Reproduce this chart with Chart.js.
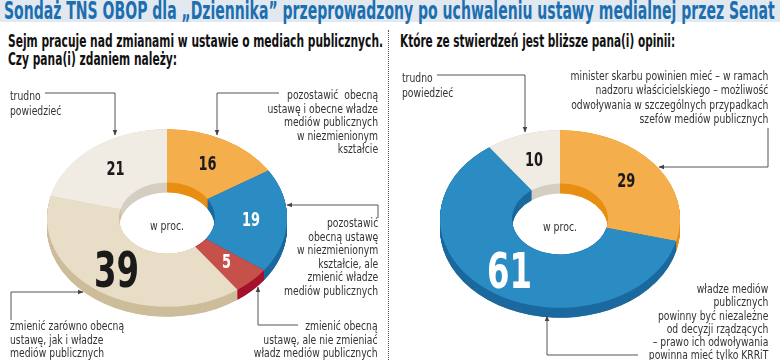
<!DOCTYPE html>
<html>
<head>
<meta charset="utf-8">
<script src="https://cdn.jsdelivr.net/npm/chart.js@4"></script>
<style>
  body { margin: 0; width: 780px; height: 360px; position: relative; overflow: hidden; background: #fff;
         font-family: "Liberation Sans Narrow", "DejaVu Sans Condensed", "Roboto", sans-serif; color: #222; }
  #titlebar { position: absolute; left: 0; top: 0; width: 780px; height: 22px; background: #e2e8ef; }
  .fit { position: absolute; white-space: nowrap; transform-origin: left top; display: inline-block; }
  #title { left: 4px; top: -3px; font-size: 25px; font-weight: bold; color: #1b6fb1; line-height: 28px; }
  .sub { font-size: 17px; font-weight: bold; color: #111; line-height: 18px; }
  #sep { position: absolute; left: 388px; top: 30px; height: 330px; border-left: 1px dotted #555; }
  .note { position: absolute; font-size: 13px; line-height: 13.5px; color: #333; white-space: nowrap;
          transform: scaleX(0.79); transform-origin: left top; }
  .r { text-align: right; transform-origin: right top; }
  .box { position: absolute; }
  svg { position: absolute; left: 0; top: 0; }
</style>
</head>
<body>
<div id="titlebar"></div>
<div id="title" class="fit">Sondaż TNS OBOP dla „Dziennika” przeprowadzony po uchwaleniu ustawy medialnej przez Senat</div>
<div id="subL" class="fit sub" style="left:8px; top:32px">Sejm pracuje nad zmianami w ustawie o mediach publicznych.<br>Czy pana(i) zdaniem należy:</div>
<div id="subR" class="fit sub" style="left:400px; top:32px">Które ze stwierdzeń jest bliższe pana(i) opinii:</div>
<div id="sep"></div>

<div class="box" style="left:47px; top:98px"><canvas id="leftChart" width="240" height="240"></canvas></div>
<div class="box" style="left:440px; top:99px"><canvas id="rightChart" width="240" height="240"></canvas></div>

<svg width="780" height="360">
  <defs>
    <marker id="ah" viewBox="0 0 10 10" refX="9" refY="5" markerWidth="6" markerHeight="6" orient="auto">
      <path d="M0,1 L10,5 L0,9 z" fill="#444"/>
    </marker>
  </defs>
  <g fill="none" stroke="#555" stroke-width="1" marker-end="url(#ah)">
    <polyline points="45,93 115,93 115,135"/>
    <polyline points="279,93 217,93 217,135"/>
    <polyline points="378,218 378,205 287,205"/>
    <polyline points="298,325 258,325 258,287"/>
    <polyline points="11,320 11,292 83,292"/>
    <polyline points="437,75 525,75 525,132"/>
    <polyline points="768,128 768,167 659,167"/>
    <polyline points="638,355 547,355 547,316"/>
  </g>
</svg>

<div class="note" style="left:10px; top:88px; line-height:15px">trudno<br>powiedzieć</div>
<div class="note r" style="right:402px; top:88px">pozostawić&nbsp; obecną<br>ustawę i obecne władze<br>mediów publicznych<br>w niezmienionym<br>kształcie</div>
<div class="note r" style="right:402px; top:216px">pozostawić<br>obecną ustawę<br>w niezmienionym<br>kształcie, ale<br>zmienić władze<br>mediów publicznych</div>
<div class="note r" style="right:402px; top:319px">zmienić obecną<br>ustawę, ale nie zmieniać<br>władz mediów publicznych</div>
<div class="note" style="left:10px; top:319px">zmienić zarówno obecną<br>ustawę, jak i władze<br>mediów publicznych</div>

<div class="note" style="left:402px; top:70px; line-height:15px">trudno<br>powiedzieć</div>
<div class="note r" style="right:12px; top:69px; line-height:14.3px">minister skarbu powinien mieć – w ramach<br>nadzoru właścicielskiego – możliwość<br>odwoływania w szczególnych przypadkach<br>szefów mediów publicznych</div>
<div class="note r" style="right:12px; top:282px; line-height:13.3px">władze mediów<br>publicznych<br>powinny być niezależne<br>od decyzji rządzących<br>– prawo ich odwoływania<br>powinna mieć tylko KRRiT</div>

<script>
// Left poll: clockwise from 12 o'clock
const leftCategories = [
  'pozostawić obecną ustawę i obecne władze mediów publicznych w niezmienionym kształcie',
  'pozostawić obecną ustawę w niezmienionym kształcie, ale zmienić władze mediów publicznych',
  'zmienić obecną ustawę, ale nie zmieniać władz mediów publicznych',
  'zmienić zarówno obecną ustawę, jak i władze mediów publicznych',
  'trudno powiedzieć'
];
const leftValues = [16, 19, 5, 39, 21];

// Right poll: clockwise from 12 o'clock
const rightCategories = [
  'minister skarbu powinien mieć możliwość odwoływania szefów mediów publicznych',
  'władze mediów publicznych powinny być niezależne od decyzji rządzących',
  'trudno powiedzieć'
];
const rightValues = [29, 61, 10];

const ORANGE = '#f5ae4c', BLUE = '#2b8bc3', RED = '#c6504a', BEIGE = '#e8ddc7', CREAM = '#f1ece3';
const sideOf = {};
sideOf[ORANGE] = '#e88f14';
sideOf[BLUE] = '#1d6a9f';
sideOf[RED] = '#a5132c';
sideOf[BEIGE] = '#cdbd9b';
sideOf[CREAM] = '#d5cec2';

const leftColors = [ORANGE, BLUE, RED, BEIGE, CREAM];
const leftTextColors = ['#1a1a1a', '#fff', '#fff', '#1a1a1a', '#1a1a1a'];
const rightColors = [ORANGE, BLUE, CREAM];
const rightTextColors = ['#1a1a1a', '#fff', '#1a1a1a'];

const TILT = 0.74;   // vertical squash of the ring
const DEPTH = 10;    // px of side wall
const FONT = '"Liberation Sans Narrow", "DejaVu Sans Condensed", sans-serif';

const tiltPlugin = {
  id: 'tilt',
  beforeDatasetsDraw(chart) {
    const ctx = chart.ctx;
    const arcs = chart.getDatasetMeta(0).data;
    const cx = arcs[0].x, cy = arcs[0].y;
    const colors = chart.data.datasets[0].backgroundColor;
    ctx.save();
    ctx.translate(cx, cy);
    ctx.scale(1, TILT);
    ctx.translate(-cx, -cy);
    const d = DEPTH / TILT;
    for (let off = d; off > 0; off -= 0.5) {
      arcs.forEach((arc, i) => {
        ctx.beginPath();
        ctx.arc(arc.x, arc.y + off, arc.outerRadius, arc.startAngle, arc.endAngle);
        ctx.arc(arc.x, arc.y + off, arc.innerRadius, arc.endAngle, arc.startAngle, true);
        ctx.closePath();
        ctx.fillStyle = sideOf[colors[i]];
        ctx.fill();
      });
    }
  },
  afterDatasetsDraw(chart) {
    const ctx = chart.ctx;
    ctx.restore();
    const arcs = chart.getDatasetMeta(0).data;
    const values = chart.data.datasets[0].data;
    const textColors = chart.options.plugins.tilt.textColors;
    const cx = arcs[0].x, cy = arcs[0].y;
    ctx.textAlign = 'center';
    ctx.textBaseline = 'middle';
    arcs.forEach((arc, i) => {
      const mid = (arc.startAngle + arc.endAngle) / 2;
      const big = values[i] > 35;
      const r = (arc.innerRadius + arc.outerRadius) / 2 + (big ? 6 : 0);
      const x = cx + r * Math.cos(mid);
      const y = cy + TILT * r * Math.sin(mid);
      ctx.save();
      ctx.translate(x, y + 1);
      ctx.scale(0.72, 1);
      ctx.font = 'bold ' + (big ? 50 : 20) + 'px ' + FONT;
      ctx.fillStyle = textColors[i];
      ctx.fillText(String(values[i]), 0, 0);
      ctx.restore();
    });
    ctx.save();
    ctx.translate(cx, cy + 9);
    ctx.scale(0.8, 1);
    ctx.font = '13px ' + FONT;
    ctx.fillStyle = '#333';
    ctx.fillText('w proc.', 0, 0);
    ctx.restore();
  }
};

function makeRing(id, labels, values, colors, textColors) {
  return new Chart(document.getElementById(id), {
    type: 'doughnut',
    data: {
      labels: labels,
      datasets: [{
        data: values,
        backgroundColor: colors,
        borderWidth: 0,
        offset: 0,
        hoverOffset: 0
      }]
    },
    options: {
      responsive: false,
      animation: false,
      cutout: '40%',
      rotation: 0,
      layout: { padding: 0 },
      events: [],
      plugins: {
        legend: { display: false },
        tooltip: { enabled: false },
        tilt: { textColors: textColors }
      }
    },
    plugins: [tiltPlugin]
  });
}

makeRing('leftChart', leftCategories, leftValues, leftColors, leftTextColors);
makeRing('rightChart', rightCategories, rightValues, rightColors, rightTextColors);

// squeeze headline texts to the widths of the original layout
function fitWidth(id, w) {
  const el = document.getElementById(id);
  el.style.transform = 'scaleX(' + (w / el.scrollWidth) + ')';
}
fitWidth('title', 771);
fitWidth('subL', 375);
fitWidth('subR', 275);
</script>
</body>
</html>
